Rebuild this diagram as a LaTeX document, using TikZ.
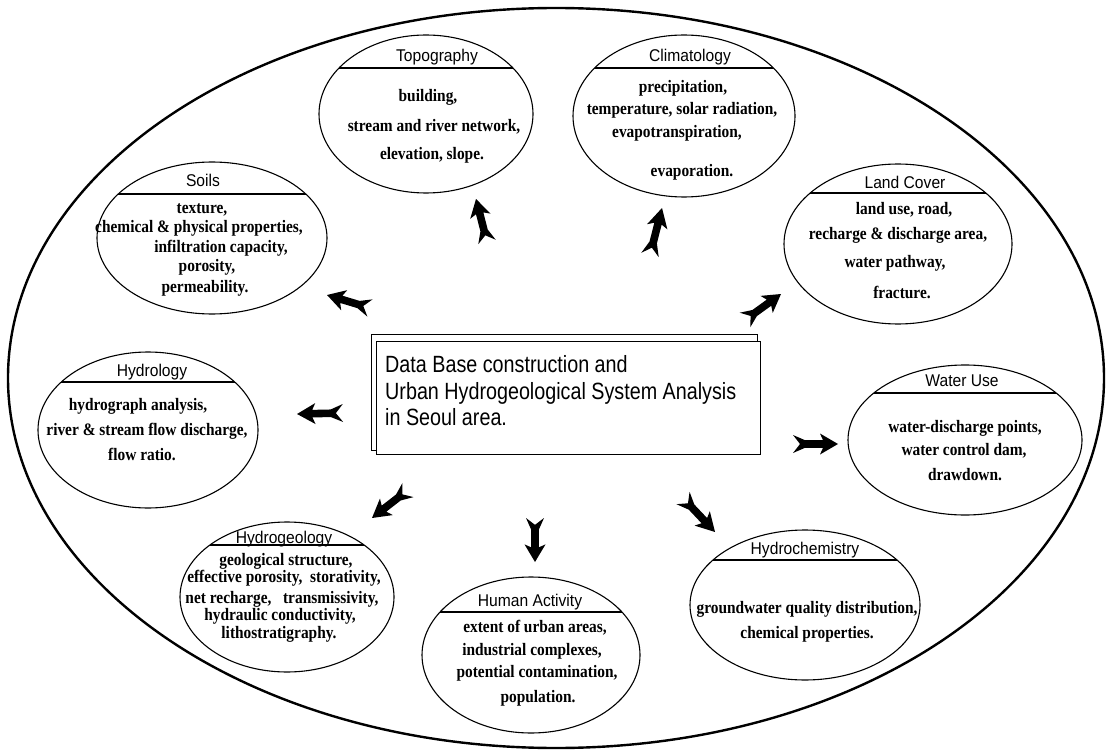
\documentclass[tikz,border=0pt]{standalone}
\usepackage{fontspec}
\setmainfont{Liberation Serif}[FakeStretch=0.88]
\newfontfamily\ttlfont{Liberation Sans}[FakeStretch=0.92]
\newfontfamily\ctrfont{Liberation Sans}[FakeStretch=0.84]
\usetikzlibrary{shapes.geometric,calc}
\tikzset{
  ovalst/.style={draw, ellipse, line width=1.1pt, inner sep=0pt, outer sep=0pt},
  ttlst/.style={font=\ttlfont\fontsize{17}{17}\selectfont, anchor=base, inner sep=0pt},
  bodyst/.style={font=\bfseries\fontsize{17.5}{17.5}\selectfont, anchor=base, inner sep=0pt},
  ctrst/.style={font=\ctrfont\fontsize{23.5}{23.5}\selectfont, anchor=base west, inner sep=0pt},
  boxst/.style={draw, line width=1pt, anchor=north west, inner sep=0pt, fill=white},
}
\newcommand\myellipse[6]{%
  \node[ovalst, minimum width=#4*2pt, minimum height=#5*2pt,
        path picture={\draw[line width=1.1pt] (-#4-5,#6-#3) -- (#4+5,#6-#3);}] (#1) at (#2,#3) {};}
\newcommand\dart[2]{%
  \fill let \p1=($(#2)-(#1)$), \n1={atan2(\y1,\x1)}, \n2={veclen(\x1,\y1)/45} in
    {[shift={(#1)}, rotate=\n1, xscale=\n2]
     (0,-9) -- (12,-3.8) -- (30,-3.8) -- (27,-10.5) -- (45,0) -- (27,10.5) -- (30,3.8) -- (12,3.8) -- (0,9) -- (7,0) -- cycle};}
\begin{document}
\begin{tikzpicture}[x=1pt,y=-1pt]
\useasboundingbox (0,0) rectangle (1110,751);
% outer ellipse
\node[draw, ellipse, line width=2.4pt, minimum width=1096pt, minimum height=740pt, inner sep=0pt] (outer) at (556,378) {};

% Topography
\myellipse{topo}{426}{114}{107}{79}{68}
\node[ttlst] (topo-t) at (437,62) {Topography};
\foreach \t/\x/\y [count=\i] in {{building,}/428/102, {stream and river network,}/434/132, {elevation, slope.}/432/160}
  \node[bodyst] (topo-\i) at (\x,\y) {\t};

% Climatology
\myellipse{clim}{684}{116}{111}{81}{68}
\node[ttlst] (clim-t) at (690,62) {Climatology};
\foreach \t/\x/\y [count=\i] in {{precipitation,}/683/93, {temperature, solar radiation,}/682/115, {evapotranspiration,}/677/138, {evaporation.}/692/177}
  \node[bodyst] (clim-\i) at (\x,\y) {\t};

% Soils
\myellipse{soil}{212}{238}{115}{76}{194}
\node[ttlst] (soil-t) at (203,187) {Soils};
\foreach \t/\x/\y [count=\i] in {{texture,}/202/214, {chemical \& physical properties,}/199/233, {infiltration capacity,}/221/252, {porosity,}/207/272, {permeability.}/205/292}
  \node[bodyst] (soil-\i) at (\x,\y) {\t};

% Land Cover
\myellipse{land}{898}{244}{114}{80}{193}
\node[ttlst] (land-t) at (905,189) {Land Cover};
\foreach \t/\x/\y [count=\i] in {{land use, road,}/904/215, {recharge \& discharge area,}/898/240, {water pathway,}/895/268, {fracture.}/902/298}
  \node[bodyst] (land-\i) at (\x,\y) {\t};

% Hydrology
\myellipse{hydl}{148}{430}{110}{78}{382}
\node[ttlst] (hydl-t) at (152,376) {Hydrology};
\foreach \t/\x/\y [count=\i] in {{hydrograph analysis,}/138/410, {river \& stream flow discharge,}/147/435, {flow ratio.}/142/460}
  \node[bodyst] (hydl-\i) at (\x,\y) {\t};

% Water Use
\myellipse{wuse}{965}{440}{117}{75}{393}
\node[ttlst] (wuse-t) at (962,386) {Water Use};
\foreach \t/\x/\y [count=\i] in {{water-discharge points,}/965/432, {water control dam,}/964/455, {drawdown.}/965/480}
  \node[bodyst] (wuse-\i) at (\x,\y) {\t};

% Hydrogeology
\myellipse{hydg}{287}{597}{107}{75}{545}
\node[ttlst] (hydg-t) at (284,543) {Hydrogeology};
\foreach \t/\x/\y [count=\i] in {{geological structure,}/286/565, {effective porosity,\ \ storativity,}/284/582, {net recharge,\ \ \ transmissivity,}/282/603, {hydraulic conductivity,}/280/620, {lithostratigraphy.}/279/638}
  \node[bodyst] (hydg-\i) at (\x,\y) {\t};

% Human Activity
\myellipse{human}{531}{655}{109}{78}{612}
\node[ttlst] (human-t) at (530,606) {Human Activity};
\foreach \t/\x/\y [count=\i] in {{extent of urban areas,}/535/632, {industrial complexes,}/532/655, {potential contamination,}/537/677, {population.}/538/702}
  \node[bodyst] (human-\i) at (\x,\y) {\t};

% Hydrochemistry
\myellipse{hydc}{805}{605}{115}{75}{560}
\node[ttlst] (hydc-t) at (805,554) {Hydrochemistry};
\foreach \t/\x/\y [count=\i] in {{groundwater quality distribution,}/807/613, {chemical properties.}/807/638}
  \node[bodyst] (hydc-\i) at (\x,\y) {\t};

% central box
\node[boxst, minimum width=386pt, minimum height=116pt] (cback) at (371,334) {};
\node[boxst, minimum width=384pt, minimum height=113pt] (cfront) at (376,341) {};
\node[ctrst] (c1) at (385,372) {Data Base construction and};
\node[ctrst] (c2) at (385,399) {Urban Hydrogeological System Analysis};
\node[ctrst] (c3) at (385,425) {in Seoul area.};

% arrows
\coordinate (a1s) at (487,242); \coordinate (a1e) at (476,199);
\coordinate (a2s) at (650,255); \coordinate (a2e) at (662,208);
\coordinate (a3s) at (370,308); \coordinate (a3e) at (327,295);
\coordinate (a4s) at (745,320); \coordinate (a4e) at (781,294);
\coordinate (a5s) at (343,413); \coordinate (a5e) at (297,414);
\coordinate (a6s) at (793,444); \coordinate (a6e) at (838,444);
\coordinate (a7s) at (408,490); \coordinate (a7e) at (372,518);
\coordinate (a8s) at (535,518); \coordinate (a8e) at (535,562);
\coordinate (a9s) at (683,498); \coordinate (a9e) at (715,532);
\foreach \k in {1,...,9} {\dart{a\k s}{a\k e}}
\end{tikzpicture}
\end{document}
